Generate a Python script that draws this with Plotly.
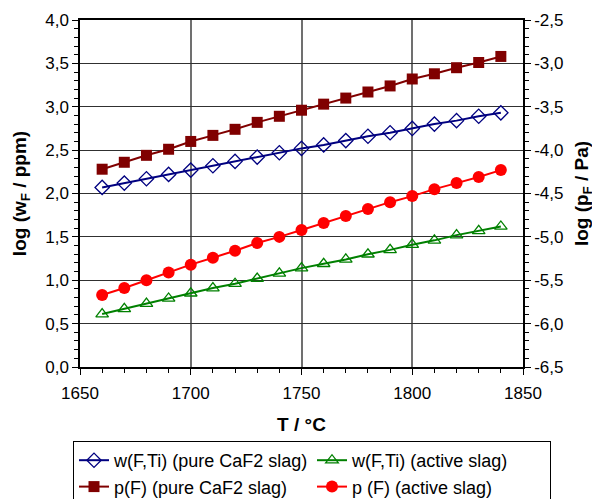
import plotly.graph_objects as go

T = [1660, 1670, 1680, 1690, 1700, 1710, 1720, 1730, 1740, 1750,
     1760, 1770, 1780, 1790, 1800, 1810, 1820, 1830, 1840]

w_pure = [2.07, 2.12, 2.17, 2.22, 2.27, 2.32, 2.37, 2.42, 2.47, 2.52,
          2.56, 2.61, 2.66, 2.70, 2.75, 2.80, 2.84, 2.89, 2.93]
w_active = [0.61, 0.67, 0.73, 0.79, 0.85, 0.91, 0.96, 1.02, 1.08, 1.14,
            1.19, 1.24, 1.30, 1.35, 1.41, 1.46, 1.52, 1.57, 1.62]
p_pure = [-4.22, -4.14, -4.06, -3.99, -3.90, -3.83, -3.76, -3.68, -3.61, -3.54,
          -3.47, -3.40, -3.33, -3.26, -3.18, -3.12, -3.05, -2.99, -2.92]
p_active = [-5.67, -5.59, -5.50, -5.41, -5.32, -5.24, -5.16, -5.07, -5.00, -4.92,
            -4.84, -4.76, -4.68, -4.60, -4.53, -4.45, -4.38, -4.31, -4.23]

right_tick_vals = [-6.5, -6.0, -5.5, -5.0, -4.5, -4.0, -3.5, -3.0, -2.5]
right_tick_text = ["-6,5", "-6,0", "-5,5", "-5,0", "-4,5", "-4,0", "-3,5", "-3,0", "-2,5"]

fig = go.Figure()
fig.add_trace(go.Scatter(x=T, y=w_pure, name="w(F,Ti) (pure CaF2 slag)", mode="lines+markers",
                         line=dict(color="#000080", width=2),
                         marker=dict(symbol="diamond-open", size=11, color="#000080", line=dict(width=1.3))))
fig.add_trace(go.Scatter(x=T, y=w_active, name="w(F,Ti) (active slag)", mode="lines+markers",
                         line=dict(color="#008000", width=2),
                         marker=dict(symbol="triangle-up-open", size=11, color="#008000", line=dict(width=1.3))))
fig.add_trace(go.Scatter(x=T, y=p_pure, name="p(F) (pure CaF2 slag)", mode="lines+markers", yaxis="y2",
                         line=dict(color="#800000", width=2),
                         marker=dict(symbol="square", size=11, color="#800000")))
fig.add_trace(go.Scatter(x=T, y=p_active, name="p (F) (active slag)", mode="lines+markers", yaxis="y2",
                         line=dict(color="#FF0000", width=2),
                         marker=dict(symbol="circle", size=12, color="#FF0000")))

font = dict(family="Liberation Sans, Arial, sans-serif", size=17, color="black")
fig.update_layout(
    width=600, height=499,
    margin=dict(l=72, r=85, t=12, b=140, autoexpand=False),
    paper_bgcolor="white", plot_bgcolor="white",
    font=font,
    separators=",.",
    showlegend=True,
    xaxis=dict(range=[1650, 1850], dtick=50, tick0=1650, showgrid=True, gridcolor="#707070", gridwidth=1.5,
               ticks="outside", ticklen=6, tickcolor="black", showline=True, linecolor="black", linewidth=1.5,
               mirror=True, zeroline=False, automargin=False, ticklabelstandoff=4,
               minor=dict(dtick=10, ticks="outside", ticklen=4, tickcolor="black", showgrid=False),
               title=dict(text="<b>T / °C</b>", font=dict(size=19), standoff=16)),
    yaxis=dict(range=[0, 4], dtick=0.5, tickformat=".1f", showgrid=True, gridcolor="#303030", gridwidth=1,
               ticks="outside", ticklen=6, tickcolor="black", showline=True, linecolor="black", linewidth=1.5,
               mirror=True, zeroline=False, automargin=False,
               minor=dict(dtick=0.1, ticks="outside", ticklen=4, tickcolor="black", showgrid=False),
               title=dict(text="<b>log (w<sub>F</sub> / ppm)</b>", font=dict(size=19), standoff=14)),
    yaxis2=dict(range=[-6.5, -2.5], tickmode="array", tickvals=right_tick_vals, ticktext=right_tick_text,
                overlaying="y", side="right", showgrid=False,
                ticks="outside", ticklen=6, tickcolor="black", showline=True, linecolor="black", linewidth=1.5,
                zeroline=False, automargin=False,
                minor=dict(dtick=0.1, tick0=-6.5, ticks="outside", ticklen=4, tickcolor="black", showgrid=False),
                title=dict(text="<b>log (p<sub>F</sub> / Pa)</b>", font=dict(size=19), standoff=12)),
    legend=dict(orientation="h", x=-7 / 443, y=-74 / 347, xanchor="left", yanchor="top",
                bordercolor="black", borderwidth=1, bgcolor="white",
                entrywidth=193, entrywidthmode="pixels", font=dict(size=18),
                tracegroupgap=0, itemwidth=30),
)

fig.write_html("out.html")
